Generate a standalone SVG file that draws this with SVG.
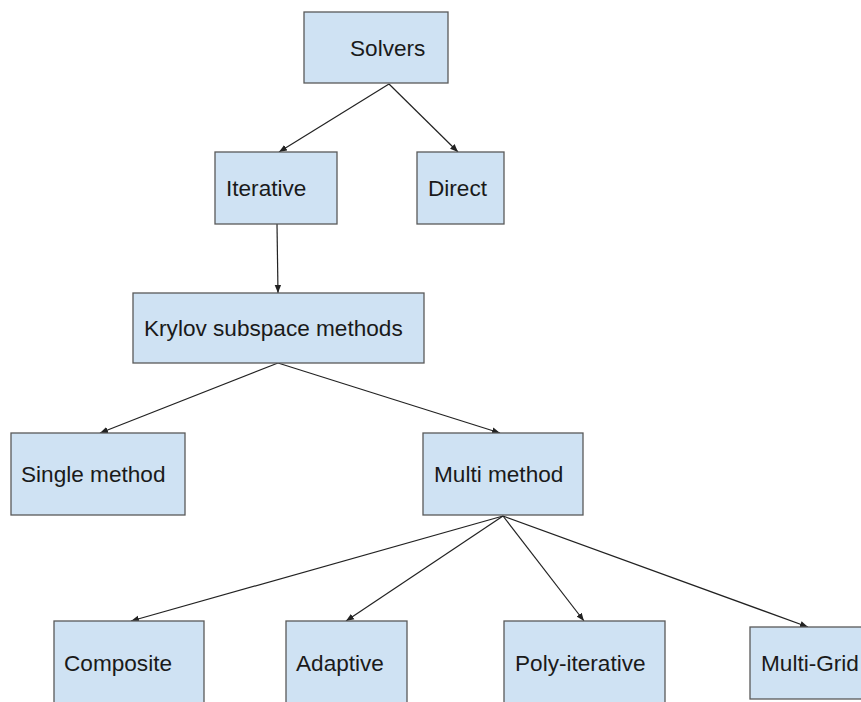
<svg xmlns="http://www.w3.org/2000/svg" width="861" height="702" viewBox="0 0 861 702">
<style>
.box{fill:#cfe2f3;stroke:#595959;stroke-width:1.3}
.lbl{font-family:"Liberation Sans",Arial,sans-serif;font-size:22.6px;fill:#1a1a1a}
.edge{stroke:#222;stroke-width:1.2;fill:none;marker-end:url(#ah)}
</style>
<defs>
<marker id="ah" viewBox="0 0 10 10" refX="10" refY="5" markerWidth="8" markerHeight="8" markerUnits="userSpaceOnUse" orient="auto">
<path d="M0,1 L10,5 L0,9 z" fill="#222"/>
</marker>
</defs>
<rect width="861" height="702" fill="#fff"/>
<g id="connectors">
<line class="edge" x1="389" y1="84" x2="279" y2="152"/>
<line class="edge" x1="389" y1="84" x2="458" y2="152"/>
<line class="edge" x1="277" y1="224" x2="278" y2="293"/>
<line class="edge" x1="278" y1="363" x2="100" y2="433"/>
<line class="edge" x1="278" y1="363" x2="500" y2="433"/>
<line class="edge" x1="503" y1="516" x2="131" y2="621"/>
<line class="edge" x1="503" y1="516" x2="346" y2="621"/>
<line class="edge" x1="503" y1="516" x2="584" y2="621"/>
<line class="edge" x1="503" y1="516" x2="808" y2="627"/>
</g>
<g id="solvers"><rect class="box" x="304" y="12" width="144" height="71"/><text class="lbl" x="350" y="56">Solvers</text></g>
<g id="iterative"><rect class="box" x="215" y="152" width="122" height="72"/><text class="lbl" x="226" y="196">Iterative</text></g>
<g id="direct"><rect class="box" x="417" y="152" width="87" height="72"/><text class="lbl" x="428" y="196">Direct</text></g>
<g id="krylov"><rect class="box" x="133" y="293" width="291" height="70"/><text class="lbl" x="144" y="336">Krylov subspace methods</text></g>
<g id="single"><rect class="box" x="11" y="433" width="174" height="82"/><text class="lbl" x="21" y="482">Single method</text></g>
<g id="multi"><rect class="box" x="423" y="433" width="160" height="82"/><text class="lbl" x="434" y="482">Multi method</text></g>
<g id="composite"><rect class="box" x="54" y="621" width="150" height="90"/><text class="lbl" x="64" y="671">Composite</text></g>
<g id="adaptive"><rect class="box" x="286" y="621" width="121" height="90"/><text class="lbl" x="296" y="671">Adaptive</text></g>
<g id="polyiterative"><rect class="box" x="504" y="621" width="161" height="90"/><text class="lbl" x="515" y="671">Poly-iterative</text></g>
<g id="multigrid"><rect class="box" x="750" y="627" width="120" height="72"/><text class="lbl" x="761" y="671">Multi-Grid</text></g>
</svg>
